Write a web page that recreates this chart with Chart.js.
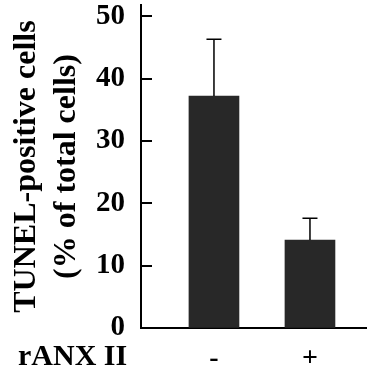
<!DOCTYPE html>
<html><head><meta charset="utf-8">
<script src="https://cdn.jsdelivr.net/npm/chart.js@4"></script>
<style>html,body{margin:0;padding:0;background:#fff}#wrap{width:367px;height:369px}</style>
</head><body><div id="wrap"><canvas id="c"></canvas></div>
<script>
const categories = ['-', '+'];
const categoryPositions = [1, 2];
const meanValues = [37.2, 14.1];
const errorValues = [9.1, 3.5];
const yTickValues = [0, 10, 20, 30, 40, 50];
const yTitleLines = ['TUNEL-positive cells', '(% of total cells)'];
const groupLabel = 'rANX II';

const SERIF = '"Liberation Serif", "Times New Roman", serif';

const extras = {
  id: 'extras',
  afterDraw(chart) {
    const ctx = chart.ctx;
    const ys = chart.scales.y;
    const area = chart.chartArea;
    ctx.save();
    ctx.strokeStyle = '#000';
    // inward y ticks
    ctx.lineWidth = 2;
    yTickValues.forEach(v => {
      const y = Math.round(ys.getPixelForValue(v));
      ctx.beginPath();
      ctx.moveTo(area.left, y);
      ctx.lineTo(area.left + 11, y);
      ctx.stroke();
    });
    // error bars (upper only)
    ctx.lineWidth = 1.5;
    const meta = chart.getDatasetMeta(0);
    meta.data.forEach((bar, i) => {
      const x = bar.x;
      const y0 = ys.getPixelForValue(meanValues[i]);
      const y1 = ys.getPixelForValue(meanValues[i] + errorValues[i]);
      ctx.beginPath();
      ctx.moveTo(x, y0);
      ctx.lineTo(x, y1);
      ctx.moveTo(x - 7.5, y1);
      ctx.lineTo(x + 7.5, y1);
      ctx.stroke();
    });
    // group label
    ctx.fillStyle = '#000';
    ctx.font = 'bold 30px ' + SERIF;
    ctx.textAlign = 'left';
    ctx.textBaseline = 'alphabetic';
    ctx.fillText(groupLabel, 18, 365);
    ctx.restore();
  }
};

new Chart(document.getElementById('c'), {
  type: 'bar',
  data: {
    datasets: [{
      data: categoryPositions.map((x, i) => ({x: x, y: meanValues[i]})),
      backgroundColor: '#282828',
      borderWidth: 0,
      barThickness: 50
    }]
  },
  options: {
    responsive: true,
    maintainAspectRatio: false,
    animation: false,
    devicePixelRatio: 1,
    layout: {padding: {left: 4, top: 5, right: 0, bottom: 3}},
    plugins: {legend: {display: false}, tooltip: {enabled: false}},
    scales: {
      x: {
        type: 'linear',
        offset: false,
        min: 0.24,
        max: 2.594,
        afterBuildTicks: s => { s.ticks = categoryPositions.map(v => ({value: v})); },
        afterFit: s => { s.height = 38; s.paddingLeft = 0; s.paddingRight = 0; },
        ticks: {
          callback: v => { const k = categoryPositions.indexOf(v); return k >= 0 ? categories[k] : ''; },
          font: {family: SERIF, size: 28, weight: 'bold', lineHeight: 0.9},
          color: '#000', padding: 18, maxRotation: 0, autoSkip: false
        },
        grid: {display: true, drawOnChartArea: false, drawTicks: false},
        border: {display: true, color: '#000', width: 2}
      },
      y: {
        min: 0,
        max: 51.8,
        afterBuildTicks: s => { s.ticks = yTickValues.map(v => ({value: v})); },
        afterFit: s => { s.width = 137; s.paddingTop = 0; s.paddingBottom = 0; },
        ticks: {
          font: {family: SERIF, size: 29, weight: 'bold', lineHeight: 0.4},
          color: '#000', padding: 16
        },
        grid: {display: true, drawOnChartArea: false, drawTicks: false},
        border: {display: true, color: '#000', width: 2},
        title: {
          display: true,
          text: yTitleLines,
          color: '#000',
          font: {family: SERIF, size: 32, weight: 'bold', lineHeight: 1.25},
          padding: {top: 3, bottom: 10}
        }
      }
    }
  },
  plugins: [extras]
});
</script>
</body></html>
